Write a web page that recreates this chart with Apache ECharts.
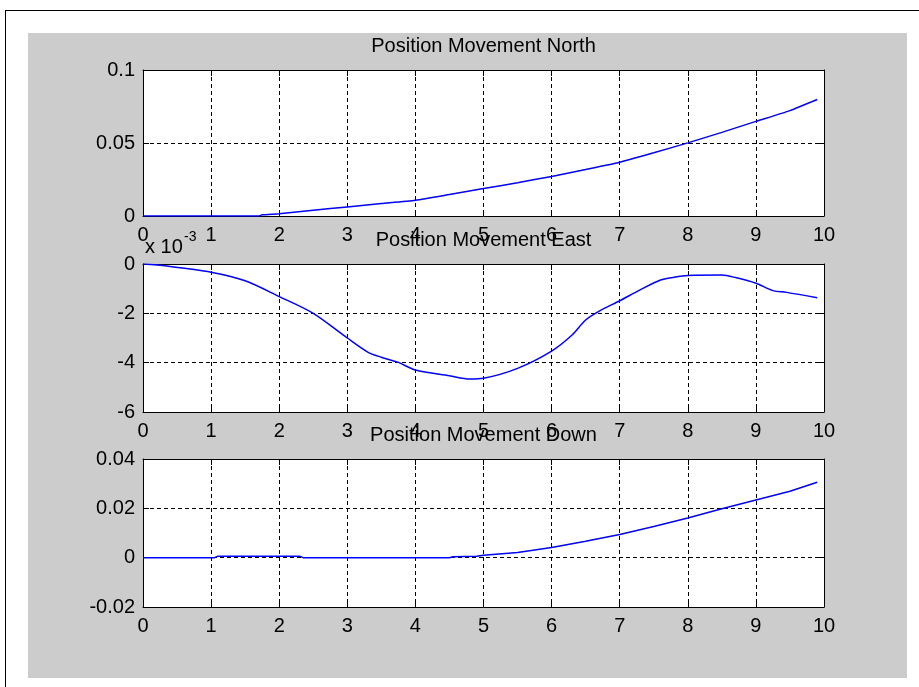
<!DOCTYPE html>
<html>
<head>
<meta charset="utf-8">
<title>Position Movement</title>
<script src="https://cdn.jsdelivr.net/npm/echarts@6/dist/echarts.min.js"></script>
<style>
  html, body { margin: 0; padding: 0; background: #ffffff; }
  #page { position: relative; width: 919px; height: 687px; overflow: hidden; }
  #frame { position: absolute; left: 5px; top: 10px; width: 940px; height: 700px;
           border: 1px solid #000; box-sizing: border-box; }
  #figure { position: absolute; left: 28px; top: 33px; width: 879px; height: 645px; background: #cccccc; }
  #chart { position: absolute; left: 0; top: 0; width: 919px; height: 687px; }
</style>
</head>
<body>
<div id="page">
  <div id="frame"></div>
  <div id="figure"></div>
  <div id="chart"></div>
</div>
<script>
// Time axis ticks (seconds) shared by the three panels
const timeTicks = [0, 1, 2, 3, 4, 5, 6, 7, 8, 9, 10];

// North position movement
const timeNorth = [0, 1, 1.7, 1.75, 2, 2.5, 3, 3.5, 4, 4.5, 5, 5.5, 6, 6.5, 7, 7.5, 8, 8.5, 9, 9.5, 9.9];
const northValues = [0, 0, 0, 0.0008, 0.0016, 0.0040, 0.0062, 0.0085, 0.0108, 0.0147, 0.0188, 0.0228,
                     0.0271, 0.0318, 0.0368, 0.0433, 0.0501, 0.0573, 0.0648, 0.0722, 0.0798];

// East position movement, in units of 10^-3
const timeEast = [0, 0.35, 1, 1.5, 2, 2.5, 3, 3.3, 3.5, 3.75, 4, 4.5, 4.8, 5, 5.5, 6, 6.3, 6.5, 6.7,
                  7, 7.3, 7.6, 7.8, 8, 8.5, 8.7, 9, 9.25, 9.45, 9.9];
const eastValues = [0, -0.08, -0.33, -0.68, -1.32, -2.0, -3.0, -3.57, -3.78, -3.99, -4.30, -4.53, -4.66,
                    -4.63, -4.23, -3.53, -2.88, -2.27, -1.91, -1.49, -1.05, -0.65, -0.54, -0.47, -0.45,
                    -0.55, -0.78, -1.08, -1.15, -1.37];

// Down position movement
const timeDown = [0, 1.05, 1.1, 2.3, 2.35, 4.5, 4.55, 4.9, 5, 5.5, 6, 6.5, 7, 7.5, 8, 8.5, 9, 9.5, 9.9];
const downValues = [0, 0, 0.0006, 0.0006, 0, 0, 0.0004, 0.0006, 0.001, 0.0021, 0.0041, 0.0067, 0.0094,
                    0.0126, 0.0161, 0.0198, 0.0234, 0.0269, 0.0306];

// Panel titles and value-axis ranges
const panelTitles = ['Position Movement North', 'Position Movement East', 'Position Movement Down'];
const yRanges = [
  { min: 0, max: 0.1, interval: 0.05 },
  { min: -6, max: 0, interval: 2 },
  { min: -0.02, max: 0.04, interval: 0.02 }
];
const eastMultiplier = ['x 10', '-3'];

const FONT = '"Liberation Sans", Arial, Helvetica, sans-serif';
const panels = [
  { top: 70, height: 146, smooth: 0.2 },
  { top: 264, height: 148, smooth: 0.3 },
  { top: 459, height: 148, smooth: false }
];
const PLOT_LEFT = 143, PLOT_WIDTH = 681;

function pairs(xs, ys) { return xs.map((x, i) => [x, ys[i]]); }
const seriesData = [pairs(timeNorth, northValues), pairs(timeEast, eastValues), pairs(timeDown, downValues)];

function fmtY(v) {
  const r = Math.round(v * 1e6) / 1e6;
  return String(r);
}

const grid = [], xAxis = [], yAxis = [], series = [], graphic = [];
panels.forEach((p, i) => {
  grid.push({ left: PLOT_LEFT, top: p.top, width: PLOT_WIDTH, height: p.height,
              show: true, backgroundColor: '#ffffff', borderWidth: 0 });
  const lineStyle = { color: '#000', width: 1 };
  // bottom axis with labels and dashed grid
  xAxis.push({
    type: 'value', gridIndex: i, position: 'bottom', min: timeTicks[0], max: timeTicks[timeTicks.length - 1], interval: 1,
    axisLine: { show: true, onZero: false, lineStyle },
    axisTick: { show: true, inside: true, length: 6, lineStyle },
    axisLabel: { show: true, margin: 9, color: '#000', fontSize: 20, fontFamily: FONT,
                 showMinLabel: true, showMaxLabel: true },
    splitLine: { show: true, lineStyle: { color: '#000', width: 1, type: [4, 3] } }
  });
  // top axis, ticks only
  xAxis.push({
    type: 'value', gridIndex: i, position: 'top', min: 0, max: 10, interval: 1,
    axisLine: { show: true, onZero: false, lineStyle },
    axisTick: { show: true, inside: true, length: 6, lineStyle },
    axisLabel: { show: false }, splitLine: { show: false }
  });
  const yr = yRanges[i];
  yAxis.push({
    type: 'value', gridIndex: i, position: 'left', min: yr.min, max: yr.max, interval: yr.interval,
    axisLine: { show: true, onZero: false, lineStyle },
    axisTick: { show: true, inside: true, length: 6, lineStyle },
    axisLabel: { show: true, margin: 8, color: '#000', fontSize: 20, fontFamily: FONT,
                 showMinLabel: true, showMaxLabel: true, formatter: fmtY },
    splitLine: { show: true, lineStyle: { color: '#000', width: 1, type: [4, 3] } }
  });
  yAxis.push({
    type: 'value', gridIndex: i, position: 'right', min: yr.min, max: yr.max, interval: yr.interval,
    axisLine: { show: true, onZero: false, lineStyle },
    axisTick: { show: true, inside: true, length: 6, lineStyle },
    axisLabel: { show: false }, splitLine: { show: false }
  });
  series.push({
    type: 'line', xAxisIndex: 2 * i, yAxisIndex: 2 * i, data: seriesData[i],
    showSymbol: false, symbol: 'none', smooth: p.smooth, clip: true,
    lineStyle: { color: '#0000ff', width: 1.5 }, z: 5
  });
  graphic.push({
    type: 'text', x: PLOT_LEFT + PLOT_WIDTH / 2, y: p.top - 24, z: 100,
    style: { text: panelTitles[i], fill: '#000', font: '20px ' + FONT,
             textAlign: 'center', textVerticalAlign: 'middle' }
  });
});

// exponent multiplier of the East panel
graphic.push({
  type: 'text', x: 145, y: 247, z: 100,
  style: { text: eastMultiplier[0], fill: '#000', font: '20px ' + FONT, textAlign: 'left', textVerticalAlign: 'middle' }
});
graphic.push({
  type: 'text', x: 184, y: 237, z: 100,
  style: { text: eastMultiplier[1], fill: '#000', font: '14px ' + FONT, textAlign: 'left', textVerticalAlign: 'middle' }
});

const chart = echarts.init(document.getElementById('chart'), null, { renderer: 'canvas' });
chart.setOption({
  animation: false,
  backgroundColor: 'transparent',
  grid, xAxis, yAxis, series, graphic
});
</script>
</body>
</html>
